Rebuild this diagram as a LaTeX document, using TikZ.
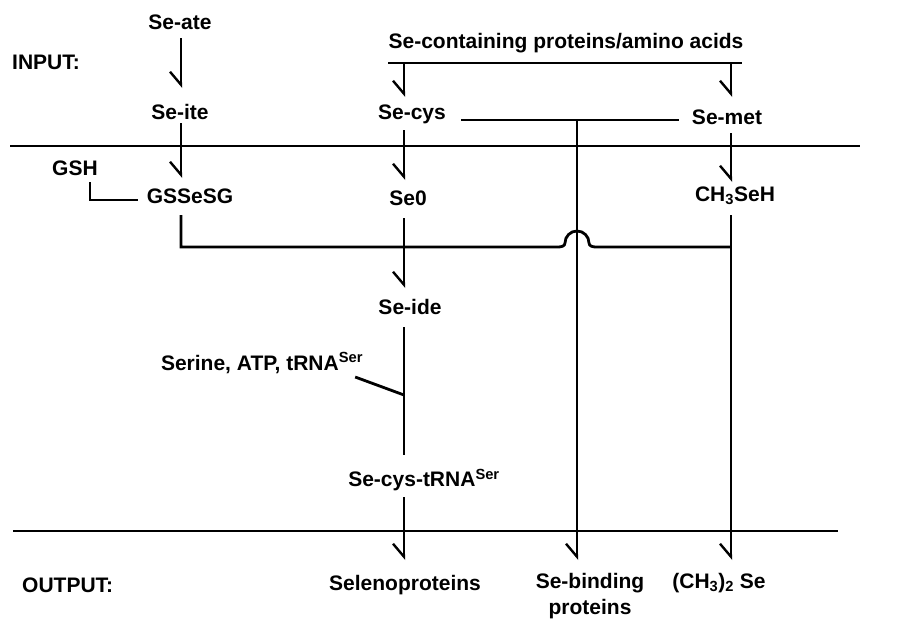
\documentclass[tikz,border=0pt]{standalone}
\usepackage{fontspec}
\setmainfont{Liberation Sans}
\usetikzlibrary{arrows.meta,calc}
\begin{document}
\begin{tikzpicture}[x=1pt,y=-1pt,
  lbl/.style={font=\fontsize{21}{25}\selectfont\bfseries, inner sep=0pt},
  rule/.style={line width=2.8pt},
  ln/.style={line width=2.8pt},
  arr/.style={line width=2.6pt, -{Straight Barb[right,length=13pt,width=22pt,line width=2.4pt]}},
]
\useasboundingbox (0,0) rectangle (897,633);
\coordinate (cA) at (181,0);
\coordinate (cB) at (404,0);
\coordinate (cC) at (577,0);
\coordinate (cD) at (731,0);

\node[lbl] (seate) at (180,22) {Se-ate};
\node[lbl,anchor=west] (input) at (12,62) {INPUT:};
\node[lbl] (secont) at (566,43) {Se-containing proteins/amino acids};
\node[lbl] (seite) at (180,112) {Se-ite};
\node[lbl] (secys) at (412,114) {Se-cys};
\node[lbl] (semet) at (727,117) {Se-met};
\node[lbl] (gsh) at (75,168) {GSH};
\node[lbl] (gssesg) at (190,196) {GSSeSG};
\node[lbl] (se0) at (408,198) {Se0};
\node[lbl] (ch3seh) at (735,196) {CH\textsubscript{3}SeH};
\node[lbl] (seide) at (410,307) {Se-ide};
\node[lbl] (serine) at (262,363) {Serine, ATP, tRNA\textsuperscript{Ser}};
\node[lbl] (secystrna) at (424,480) {Se-cys-tRNA\textsuperscript{Ser}};
\node[lbl,anchor=west] (output) at (22,585) {OUTPUT:};
\node[lbl] (selenoprot) at (405,585) {Selenoproteins};
\node[lbl] (sebinding) at (590,583) {Se-binding};
\node[lbl] (proteins) at (590,609) {proteins};
\node[lbl] (dimethyl) at (719,583) {(CH\textsubscript{3})\textsubscript{2} Se};

% horizontal compartment rules
\coordinate (l1w) at (10,146); \coordinate (l1e) at (860,146);
\coordinate (l2w) at (13,531); \coordinate (l2e) at (838,531);
\draw[rule] (l1w) -- (l1e);
\draw[rule] (l2w) -- (l2e);

% bracket under Se-containing proteins
\coordinate (brw) at (388,63); \coordinate (bre) at (742,63);
\draw[ln] (brw) -- (bre);
\draw[arr] (brw -| cB) -- ($(secys.center -| cB)+(0,-17)$);
\draw[arr] (bre -| cD) -- ($(semet.center -| cD)+(0,-20)$);

% column A
\draw[arr] ($(seate.center -| cA)+(0,16)$) -- ($(seite.center -| cA)+(0,-24)$);
\draw[arr] ($(seite.center -| cA)+(0,11)$) -- ($(gssesg.center -| cA)+(0,-18)$);
\draw[ln] ($(gsh.center)+(15,14)$) |- ($(gssesg.west)+(-9,4)$);

% column B
\draw[arr] ($(secys.center -| cB)+(0,16)$) -- ($(se0.center -| cB)+(0,-18)$);
\draw[arr] ($(se0.center -| cB)+(0,20)$) -- ($(seide.center -| cB)+(0,-19)$);
\draw[ln] ($(seide.center -| cB)+(0,20)$) -- ($(secystrna.center -| cB)+(0,-25)$);
\draw[ln] ($(serine.east)+(-8,14)$) -- ($(secystrna.center -| cB)+(0,-85)$);
\draw[arr] ($(secystrna.center -| cB)+(0,17)$) -- ($(selenoprot.center -| cB)+(0,-25)$);

% column D
\draw[arr] ($(semet.center -| cD)+(0,16)$) -- ($(ch3seh.center -| cD)+(0,-14)$);
\draw[arr] ($(ch3seh.center -| cD)+(0,19)$) -- ($(dimethyl.center -| cD)+(0,-23)$);

% Se-cys -- Se-met link and column C
\coordinate (sl) at ($(secys.east)+(15,6)$);
\coordinate (sr) at ($(semet.west)+(-13,3)$);
\draw[ln] (sl) -- (sr);
\draw[arr] (sl -| cC) -- ($(sebinding.center -| cC)+(0,-23)$);

% GSSeSG link with hop over column C
\coordinate (hop) at (577,247);
\draw[ln] ($(gssesg.center -| cA)+(0,19)$) |- ($(hop)+(-19,0)$)
  to[out=0,in=-90] ($(hop)+(-12,-4)$)
  arc[start angle=180,end angle=0,radius=12pt]
  to[out=-90,in=180] ($(hop)+(19,0)$)
  -- (hop -| cD);
\end{tikzpicture}
\end{document}
